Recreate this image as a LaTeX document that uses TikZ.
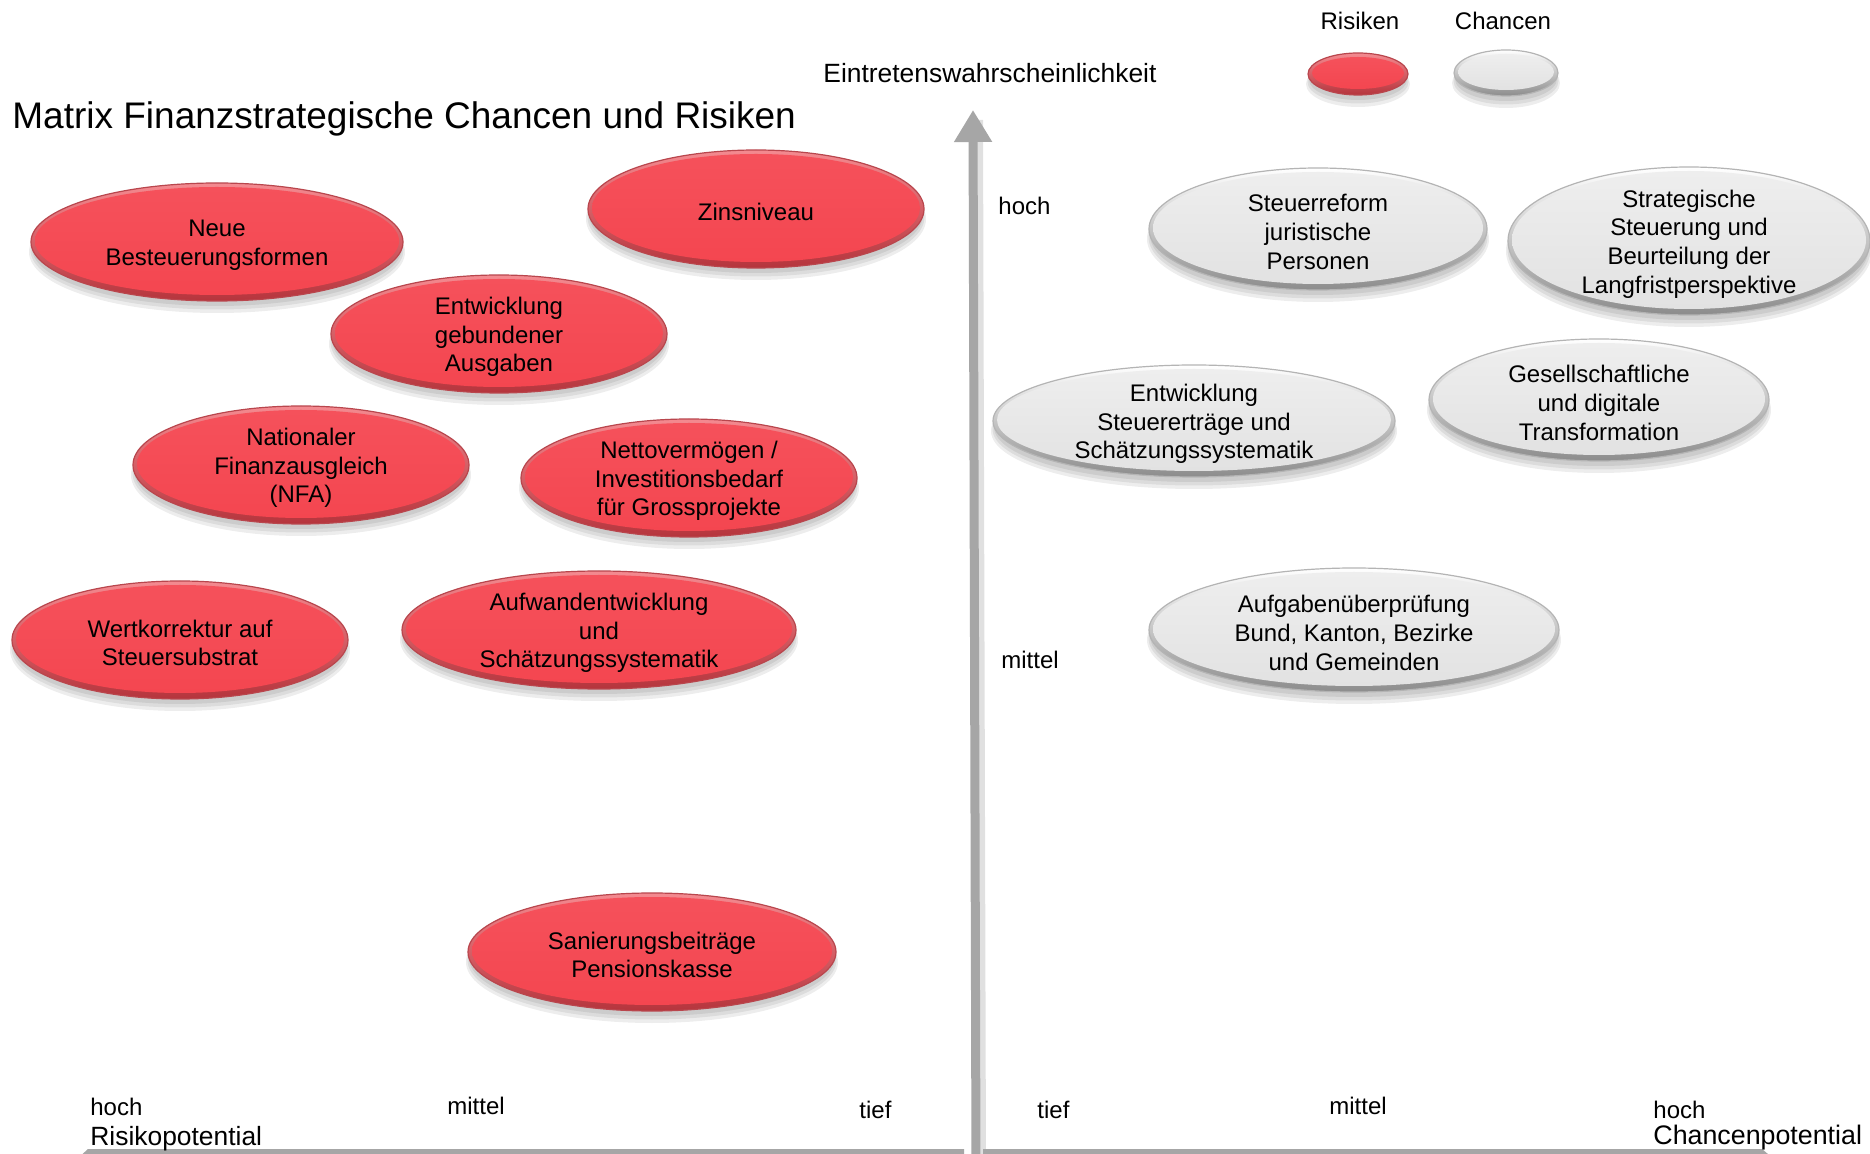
\documentclass[tikz,border=0pt]{standalone}
\usepackage{fontspec}
\setmainfont{Liberation Sans}
\usetikzlibrary{arrows.meta}
\definecolor{rktop}{HTML}{F48A90}
\definecolor{rkbot}{HTML}{B5343C}
\definecolor{rkedge}{HTML}{B9464D}
\definecolor{rkinA}{HTML}{F5515B}
\definecolor{rkinB}{HTML}{F44650}
\definecolor{chtop}{HTML}{FFFFFF}
\definecolor{chbot}{HTML}{8C8C8C}
\definecolor{chedge}{HTML}{B4B4B4}
\definecolor{chinA}{HTML}{EEEEEE}
\definecolor{chinB}{HTML}{E2E2E2}
\definecolor{axgrey}{HTML}{A6A6A6}
\newcommand\mybubble[7]{%
  \foreach \o/\g in {10/2, 8/0.5, 6/-1}{%
    \fill[black,opacity=0.07] (#2,#3+\o) ellipse [x radius={#4/2+\g}, y radius={#5/2+\g}];}
  \shade[top color=#6top, bottom color=#6bot, draw=#6edge, line width=0.6pt]
    (#2,#3) ellipse [x radius={#4/2}, y radius={#5/2}];
  \shade[top color=#6inA, bottom color=#6inB]
    (#2,#3-1) ellipse [x radius={#4/2-4}, y radius={#5/2-5}];
  \node[bubtxt] (#1) at (#2,#3+3) {#7};
}
\begin{document}
\begin{tikzpicture}[x=0.5pt,y=-0.5pt,
  bubtxt/.style={align=center, inner sep=0pt, font=\fontsize{12}{14.3}\selectfont, text=black},
  lbl/.style={anchor=base west, inner sep=0pt, font=\fontsize{12}{14}\selectfont, text=black},
  axisline/.style={draw=axgrey, line width=4.5pt},
  axshadow/.style={draw=black, opacity=0.12, line width=6pt}]
\useasboundingbox (0,0) rectangle (1870,1154);
\fill[white] (0,0) rectangle (1870,1154);

% axes
\coordinate (vbot) at (976,1170);
\coordinate (vtop) at (973,110);
\coordinate (vbotS) at (980,1170);
\coordinate (vtopS) at (977,120);
\draw[axshadow] (vbotS) -- (vtopS);
\draw[axisline, -{Triangle[length=16pt,width=18pt]}] (vbot) -- (vtop);
\coordinate (hl1) at (964,1149);
\coordinate (hl2) at (88,1149);
\coordinate (hl3) at (76,1160);
\coordinate (hl4) at (964,1160);
\fill[axgrey] (hl1) -- (hl2) -- (hl3) -- (hl4) -- cycle;
\coordinate (hr1) at (983,1149);
\coordinate (hr2) at (1762,1149);
\coordinate (hr3) at (1775,1160);
\coordinate (hr4) at (983,1160);
\fill[axgrey] (hr1) -- (hr2) -- (hr3) -- (hr4) -- cycle;

% texts
\node[lbl, font=\fontsize{18.5}{21}\selectfont] (title) at (12,129) {Matrix Finanzstrategische Chancen und Risiken};
\node[lbl, font=\fontsize{13.2}{15}\selectfont] (ew) at (823,83) {Eintretenswahrscheinlichkeit};
\node[lbl, anchor=base] (legRt) at (1360,30) {Risiken};
\node[lbl, anchor=base] (legCt) at (1503,30) {Chancen};
\node[lbl] (vh) at (998,215) {hoch};
\node[lbl] (vm) at (1001,669) {mittel};
\node[lbl] (rh) at (90,1115) {hoch};
\node[lbl, font=\fontsize{13.2}{15}\selectfont] (rp) at (90,1145) {Risikopotential};
\node[lbl] (rm) at (447,1114) {mittel};
\node[lbl] (rt) at (859,1118) {tief};
\node[lbl] (ct) at (1037,1118) {tief};
\node[lbl] (cm) at (1329,1114) {mittel};
\node[lbl] (chh) at (1653,1118) {hoch};
\node[lbl, font=\fontsize{13.4}{15}\selectfont] (cp) at (1653,1144) {Chancenpotential};

% legend
\mybubble{legR}{1358}{74}{100}{42}{rk}{}
\mybubble{legC}{1506}{73}{104}{46}{ch}{}

% risks
\mybubble{zins}{756}{209}{336}{118}{rk}{Zinsniveau}
\mybubble{neue}{217}{242}{372}{118}{rk}{Neue\\Besteuerungsformen}
\mybubble{gebund}{499}{334}{336}{118}{rk}{Entwicklung\\gebundener\\Ausgaben}
\mybubble{nfa}{301}{465}{336}{118}{rk}{Nationaler\\Finanzausgleich\\(NFA)}
\mybubble{netto}{689}{478}{336}{118}{rk}{Nettovermögen /\\Investitionsbedarf\\für Grossprojekte}
\mybubble{wert}{180}{640}{336}{118}{rk}{Wertkorrektur auf\\Steuersubstrat}
\mybubble{aufw}{599}{630}{394}{118}{rk}{Aufwandentwicklung\\und\\Schätzungssystematik}
\mybubble{sanier}{652}{952}{368}{118}{rk}{Sanierungsbeiträge\\Pensionskasse}

% chances
\mybubble{steuerref}{1318}{229}{338}{122}{ch}{Steuerreform\\juristische\\Personen}
\mybubble{strat}{1689}{241}{362}{148}{ch}{Strategische\\Steuerung und\\Beurteilung der\\Langfristperspektive}
\mybubble{ertraege}{1194}{421}{402}{112}{ch}{Entwicklung\\Steuererträge und\\Schätzungssystematik}
\mybubble{gesell}{1599}{400}{340}{122}{ch}{Gesellschaftliche\\und digitale\\Transformation}
\mybubble{aufgaben}{1354}{630}{410}{124}{ch}{Aufgabenüberprüfung\\Bund, Kanton, Bezirke\\und Gemeinden}
\end{tikzpicture}
\end{document}
